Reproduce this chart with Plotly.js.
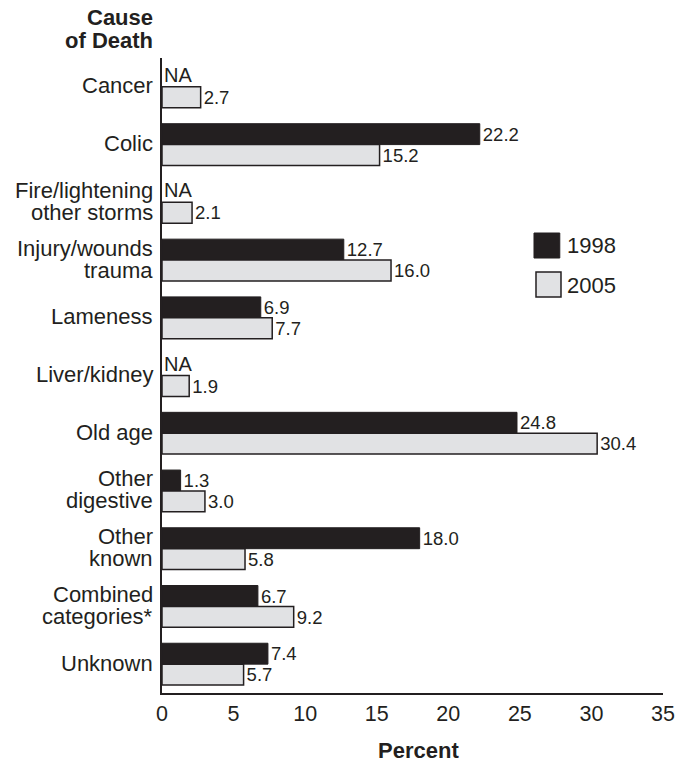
<!DOCTYPE html>
<html>
<head>
<meta charset="utf-8">
<script src="https://cdn.plot.ly/plotly-3.0.1.min.js"></script>
<style>html,body{margin:0;padding:0;background:#fff;}#chart{width:691px;height:763px;}</style>
</head>
<body>
<div id="chart"></div>
<script>
const categories = ['Cancer','Colic','Fire/lightening other storms','Injury/wounds trauma','Lameness','Liver/kidney','Old age','Other digestive','Other known','Combined categories*','Unknown'];
const categoryLabels = ['Cancer','Colic','Fire/lightening<br>other storms','Injury/wounds<br>trauma','Lameness','Liver/kidney','Old age','Other<br>digestive','Other<br>known','Combined<br>categories*','Unknown'];
const values1998 = [null,22.2,null,12.7,6.9,null,24.8,1.3,18.0,6.7,7.4];
const values2005 = [2.7,15.2,2.1,16.0,7.7,1.9,30.4,3.0,5.8,9.2,5.7];
const xTicks = [0,5,10,15,20,25,30,35];

const ink = '#231f20';
const font = 'Liberation Sans, Arial, Helvetica, sans-serif';

const traces = [
  {type:'bar', orientation:'h', name:'1998', y:categories, x:values1998,
   marker:{color:ink, line:{color:ink, width:1}},
   text:values1998.map(v => v==null ? '' : v.toFixed(1)), textposition:'outside',
   outsidetextfont:{family:font, size:19.5, color:ink}, cliponaxis:false, hoverinfo:'skip'},
  {type:'bar', orientation:'h', name:'2005', y:categories, x:values2005,
   marker:{color:'#e1e2e4', line:{color:ink, width:1.5}},
   text:values2005.map(v => v.toFixed(1)), textposition:'outside',
   outsidetextfont:{family:font, size:19.5, color:ink}, cliponaxis:false, hoverinfo:'skip'}
];

const annotations = [];
// category labels (tight line spacing, right aligned)
categoryLabels.forEach((lab, i) => {
  const lines = lab.split('<br>');
  const n = lines.length;
  lines.forEach((ln, j) => {
    annotations.push({x:-0.013, y:categories[i], xref:'paper', yref:'y', text:ln, showarrow:false,
      xanchor:'right', yanchor:'middle', yshift:((n-1)/2 - j)*22 + 1,
      font:{family:font, size:22, color:ink}});
  });
});
values1998.forEach((v,i) => {
  if (v == null) annotations.push({x:0, y:categories[i], xref:'x', yref:'y', text:'NA', showarrow:false,
    xanchor:'left', yanchor:'middle', xshift:0, yshift:12, font:{family:font, size:20, color:ink}});
});
annotations.push({x:-0.014, y:1.0644, xref:'paper', yref:'paper', text:'<b>Cause</b>', showarrow:false,
  xanchor:'right', yanchor:'middle', font:{family:font, size:22, color:ink}});
annotations.push({x:-0.014, y:1.0283, xref:'paper', yref:'paper', text:'<b>of Death</b>', showarrow:false,
  xanchor:'right', yanchor:'middle', font:{family:font, size:22, color:ink}});
annotations.push({x:0.511, y:-0.0898, xref:'paper', yref:'paper', text:'<b>Percent</b>', showarrow:false,
  xanchor:'center', yanchor:'middle', font:{family:font, size:22, color:ink}});
annotations.push({x:0.804, y:0.7055, xref:'paper', yref:'paper', text:'1998', showarrow:false,
  xanchor:'left', yanchor:'middle', font:{family:font, size:22, color:ink}});
annotations.push({x:0.804, y:0.6425, xref:'paper', yref:'paper', text:'2005', showarrow:false,
  xanchor:'left', yanchor:'middle', font:{family:font, size:22, color:ink}});

const shapes = [
  {type:'rect', xref:'paper', yref:'paper', x0:0.7425, x1:0.794, y0:0.685, y1:0.7244, fillcolor:ink, line:{color:ink, width:1}},
  {type:'rect', xref:'paper', yref:'paper', x0:0.7465, x1:0.7964, y0:0.6236, y1:0.663, fillcolor:'#e1e2e4', line:{color:ink, width:1.5}}
];

const layout = {
  width:691, height:763,
  margin:{l:162, r:28, t:58, b:70},
  paper_bgcolor:'#fff', plot_bgcolor:'#fff',
  barmode:'group', bargap:0.276, bargroupgap:0,
  showlegend:false,
  font:{family:font, color:ink},
  xaxis:{range:[0,35], tickvals:xTicks, ticktext:xTicks.map(String), showgrid:false, zeroline:false,
    showline:true, linecolor:ink, linewidth:2, ticks:'', tickfont:{family:font, size:21.5, color:ink}, fixedrange:true},
  yaxis:{type:'category', autorange:'reversed', showticklabels:false, showgrid:false, zeroline:false,
    showline:true, linecolor:ink, linewidth:2, ticks:'', fixedrange:true},
  annotations:annotations,
  shapes:shapes
};

Plotly.newPlot('chart', traces, layout, {displayModeBar:false, staticPlot:true});
</script>
</body>
</html>
